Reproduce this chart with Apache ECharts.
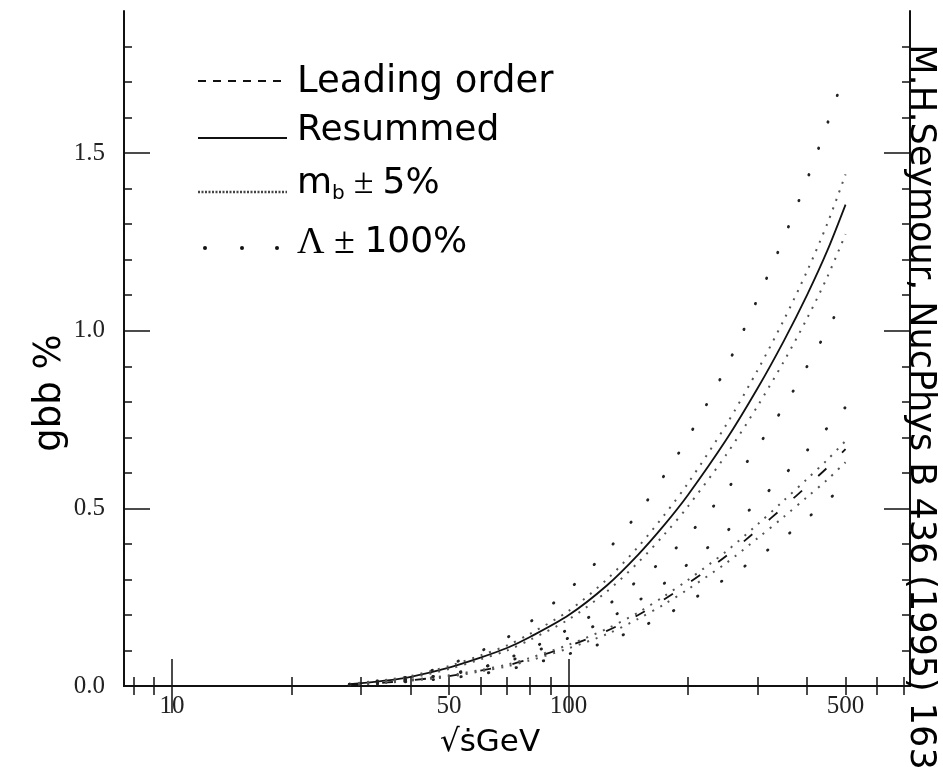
<!DOCTYPE html>
<html>
<head>
<meta charset="utf-8">
<title>gbb %</title>
<script src="https://cdn.jsdelivr.net/npm/echarts@6/dist/echarts.min.js"></script>
<style>
  html, body { margin: 0; padding: 0; background: #fff; }
  #chart { width: 943px; height: 767px; }
</style>
</head>
<body>
<div id="chart"></div>
<script>
// Centre-of-mass energy sqrt(s) in GeV, shared by every curve
const energies = [28, 35, 40, 50, 60, 70, 80, 100, 125, 150, 175, 200, 250, 300, 350, 400, 450, 500];

// Leading order prediction and its m_b +/- 5% band (gbb %)
const leadingOrder   = [0.003, 0.010, 0.016, 0.028, 0.043, 0.058, 0.076, 0.112, 0.155, 0.200, 0.245, 0.288, 0.366, 0.440, 0.505, 0.563, 0.615, 0.667];
const leadingMbUp    = [0.004, 0.011, 0.017, 0.030, 0.045, 0.060, 0.079, 0.116, 0.161, 0.207, 0.254, 0.298, 0.379, 0.455, 0.523, 0.583, 0.637, 0.690];
const leadingMbDown  = [0.003, 0.009, 0.015, 0.026, 0.041, 0.055, 0.072, 0.106, 0.146, 0.189, 0.231, 0.272, 0.346, 0.416, 0.477, 0.532, 0.581, 0.630];
// Leading order with Lambda +/- 100%
const leadingLamUp   = [0.004, 0.012, 0.019, 0.034, 0.052, 0.069, 0.092, 0.135, 0.187, 0.240, 0.290, 0.343, 0.434, 0.518, 0.594, 0.663, 0.727, 0.785];
const leadingLamDown = [0.002, 0.008, 0.013, 0.022, 0.034, 0.046, 0.061, 0.090, 0.125, 0.163, 0.198, 0.236, 0.303, 0.362, 0.418, 0.472, 0.522, 0.568];

// Resummed prediction and its m_b +/- 5% band
const resummed       = [0.005, 0.016, 0.026, 0.052, 0.080, 0.107, 0.138, 0.199, 0.283, 0.370, 0.455, 0.537, 0.693, 0.838, 0.973, 1.101, 1.226, 1.355];
const resummedMbUp   = [0.006, 0.018, 0.028, 0.056, 0.086, 0.114, 0.147, 0.211, 0.300, 0.392, 0.483, 0.570, 0.735, 0.889, 1.032, 1.168, 1.302, 1.440];
const resummedMbDown = [0.004, 0.014, 0.023, 0.048, 0.075, 0.100, 0.130, 0.187, 0.266, 0.348, 0.428, 0.505, 0.651, 0.788, 0.915, 1.035, 1.152, 1.272];
// Resummed with Lambda +/- 100%
const resummedLamUp  = [0.005, 0.018, 0.027, 0.060, 0.098, 0.136, 0.180, 0.270, 0.380, 0.487, 0.595, 0.698, 0.897, 1.090, 1.263, 1.426, 1.583, 1.730];
const resummedLamDown= [0.003, 0.012, 0.019, 0.032, 0.051, 0.077, 0.104, 0.160, 0.226, 0.298, 0.358, 0.423, 0.550, 0.674, 0.787, 0.900, 1.003, 1.100];

// Axis ticks and labels
const xLabelValues = [10, 50, 100, 500];
const xMajorTicks  = [10, 100];
const xMinorTicks  = [8, 9, 20, 30, 40, 50, 60, 70, 80, 90, 200, 300, 400, 500, 600, 700];
const yLabelValues = [0, 0.5, 1.0, 1.5];
const yMinorTicks  = [0.1, 0.2, 0.3, 0.4, 0.6, 0.7, 0.8, 0.9, 1.1, 1.2, 1.3, 1.4, 1.6, 1.7, 1.8];

const X_MIN = 7.57, X_MAX = 727, Y_MIN = 0, Y_MAX = 1.9;
const INK = '#111';
const sansFont = '"DejaVu Sans", sans-serif';
const serifFont = '"Liberation Serif", "DejaVu Serif", serif';

const pairs = ys => energies.map((e, i) => [e, ys[i]]);

const gridBox = { left: 124, right: 33, top: 11, bottom: 81 };

function xAxisDef(gridIndex, position, ticks, len, withLabels, withLine) {
  return {
    type: 'log', logBase: 10, gridIndex, position,
    min: X_MIN, max: X_MAX,
    axisLine: { show: withLine, lineStyle: { color: INK, width: 2 } },
    axisTick: { show: true, inside: true, length: len, customValues: ticks,
                lineStyle: { color: INK, width: 1.5 } },
    axisLabel: withLabels ? {
      show: true, customValues: xLabelValues, margin: 8,
      fontFamily: serifFont, fontSize: 25, color: '#222',
      formatter: v => String(Math.round(v))
    } : { show: false },
    splitLine: { show: false }, minorTick: { show: false }
  };
}

function yAxisDef(gridIndex, position, ticks, len, withLabels, withLine) {
  return {
    type: 'value', gridIndex, position,
    min: Y_MIN, max: Y_MAX,
    axisLine: { show: withLine, lineStyle: { color: INK, width: 2 } },
    axisTick: { show: true, inside: true, length: len, customValues: ticks,
                lineStyle: { color: INK, width: 1.5 } },
    axisLabel: withLabels ? {
      show: true, customValues: yLabelValues, margin: 19,
      fontFamily: serifFont, fontSize: 25, color: '#222',
      formatter: v => v.toFixed(1)
    } : { show: false },
    splitLine: { show: false }
  };
}

// Every curve is plotted on the labelled axes of the second grid
function curve(name, ys, style) {
  return {
    name, type: 'line', xAxisIndex: 2, yAxisIndex: 2,
    data: pairs(ys), showSymbol: false, symbol: 'none',
    smooth: 0.3, silent: true, z: 3,
    lineStyle: Object.assign({ color: INK, width: 1.8 }, style)
  };
}

const dashedStyle = { type: [11, 22], width: 1.8, color: INK };
const solidStyle  = { type: 'solid', width: 1.8, color: INK };
const mbStyle     = { type: [2, 7], width: 2, color: '#555' };
const lamStyle    = { type: [0.5, 27.5], width: 2.8, cap: 'round', color: '#222' };

const legendTop = [82, 131, 184, 243];
const legendTextX = 297;

const chart = echarts.init(document.getElementById('chart'), null, { renderer: 'canvas' });
chart.setOption({
  backgroundColor: '#fff',
  animation: false,
  grid: [
    Object.assign({}, gridBox),
    Object.assign({}, gridBox)
  ],
  xAxis: [
    xAxisDef(0, 'bottom', xMinorTicks, 9, false, false),
    xAxisDef(0, 'top', xMinorTicks, 9, false, false),
    xAxisDef(1, 'bottom', xMajorTicks, 27, true, true),
    xAxisDef(1, 'top', xMajorTicks, 27, false, true)
  ],
  yAxis: [
    yAxisDef(0, 'left', yMinorTicks, 8, false, false),
    yAxisDef(0, 'right', yMinorTicks, 8, false, false),
    yAxisDef(1, 'left', yLabelValues, 26, true, true),
    yAxisDef(1, 'right', yLabelValues, 26, false, true)
  ],
  series: [
    curve('Leading order', leadingOrder, dashedStyle),
    curve('Leading order m_b +5%', leadingMbUp, mbStyle),
    curve('Leading order m_b -5%', leadingMbDown, mbStyle),
    curve('Leading order Lambda +100%', leadingLamUp, lamStyle),
    curve('Leading order Lambda -100%', leadingLamDown, lamStyle),
    curve('Resummed', resummed, solidStyle),
    curve('Resummed m_b +5%', resummedMbUp, mbStyle),
    curve('Resummed m_b -5%', resummedMbDown, mbStyle),
    curve('Resummed Lambda +100%', resummedLamUp, lamStyle),
    curve('Resummed Lambda -100%', resummedLamDown, lamStyle)
  ],
  graphic: [
    // Legend samples
    { type: 'line', shape: { x1: 198, y1: 81, x2: 287, y2: 81 },
      style: { stroke: INK, lineWidth: 2, lineDash: [8, 7] } },
    { type: 'line', shape: { x1: 198, y1: 138, x2: 287, y2: 138 },
      style: { stroke: INK, lineWidth: 2 } },
    { type: 'line', shape: { x1: 198, y1: 192, x2: 287, y2: 192 },
      style: { stroke: '#444', lineWidth: 2.5, lineDash: [2, 1.5] } },
    { type: 'circle', shape: { cx: 205, cy: 248, r: 2 }, style: { fill: INK } },
    { type: 'circle', shape: { cx: 242, cy: 248, r: 2 }, style: { fill: INK } },
    { type: 'circle', shape: { cx: 277, cy: 248, r: 2 }, style: { fill: INK } },
    // Legend texts
    { type: 'text', x: legendTextX, y: legendTop[0],
      style: { text: 'Leading order', font: '37px ' + sansFont, fill: '#000',
               align: 'left', verticalAlign: 'middle' } },
    { type: 'text', x: legendTextX, y: legendTop[1],
      style: { text: 'Resummed', font: '36px ' + sansFont, fill: '#000',
               align: 'left', verticalAlign: 'middle' } },
    { type: 'text', x: legendTextX, y: legendTop[2],
      style: {
        text: '{m|m}{s|b}{p| ± }{m|5%}', align: 'left', verticalAlign: 'middle',
        rich: {
          m: { fontFamily: sansFont, fontSize: 36, lineHeight: 40, color: '#000' },
          s: { fontFamily: sansFont, fontSize: 20, lineHeight: 40, verticalAlign: 'bottom', color: '#000' },
          p: { fontFamily: serifFont, fontSize: 36, lineHeight: 40, color: '#000' }
        }
      } },
    { type: 'text', x: legendTextX, y: legendTop[3],
      style: {
        text: '{g|Λ ± }{m|100%}', align: 'left', verticalAlign: 'middle',
        rich: {
          g: { fontFamily: serifFont, fontSize: 38, lineHeight: 40, color: '#000' },
          m: { fontFamily: sansFont, fontSize: 36, lineHeight: 40, color: '#000' }
        }
      } },
    // Axis titles
    { type: 'text', x: 50, y: 393, rotation: Math.PI / 2,
      style: { text: 'gbb %', font: '37px ' + sansFont, fill: '#000',
               align: 'center', verticalAlign: 'middle' } },
    { type: 'text', x: 490, y: 743,
      style: { text: '√ṡGeV', font: '31px ' + sansFont, fill: '#000',
               align: 'center', verticalAlign: 'middle' } },
    // Citation along the right edge
    { type: 'text', x: 920, y: 407, rotation: -Math.PI / 2, z: 10,
      style: { text: 'M.H.Seymour, NucPhys B 436 (1995) 163', font: '35px ' + sansFont,
               fill: '#000', align: 'center', verticalAlign: 'middle' } }
  ]
});
</script>
</body>
</html>
